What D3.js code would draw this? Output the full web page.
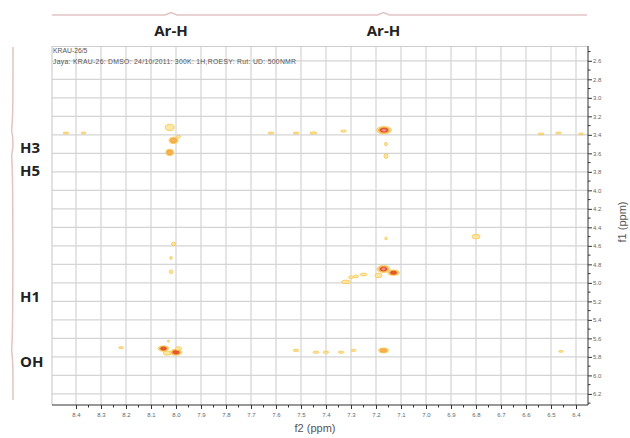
<!DOCTYPE html>
<html>
<head>
<meta charset="utf-8">
<script src="https://cdn.jsdelivr.net/npm/d3@7"></script>
<style>
  body { margin: 0; background: #fff; }
  svg { display: block; }
</style>
</head>
<body>
<div id="chart"></div>
<script>
// axis ticks (ppm)
const f2Ticks = [8.4, 8.3, 8.2, 8.1, 8.0, 7.9, 7.8, 7.7, 7.6, 7.5, 7.4, 7.3, 7.2, 7.1, 7.0, 6.9, 6.8, 6.7, 6.6, 6.5, 6.4];
const f1Ticks = [2.6, 2.8, 3.0, 3.2, 3.4, 3.6, 3.8, 4.0, 4.2, 4.4, 4.6, 4.8, 5.0, 5.2, 5.4, 5.6, 5.8, 6.0, 6.2];

// cross peaks: [f2, f1, half width f2, half width f1, contour levels]
const peaks = [
    [8.44, 3.38, 0.012, 0.010, 1],
    [8.37, 3.38, 0.010, 0.010, 1],
    [7.62, 3.38, 0.012, 0.010, 1],
    [7.52, 3.38, 0.012, 0.010, 1],
    [7.45, 3.38, 0.014, 0.012, 1],
    [7.33, 3.36, 0.012, 0.012, 1],
    [6.54, 3.39, 0.012, 0.010, 1],
    [6.47, 3.38, 0.012, 0.010, 1],
    [6.38, 3.39, 0.010, 0.010, 1],
    [7.168, 3.35, 0.030, 0.040, 4],
    [7.16, 3.50, 0.006, 0.018, 1],
    [7.16, 3.63, 0.008, 0.025, 1],
    [8.025, 3.32, 0.018, 0.035, 1],
    [8.01, 3.46, 0.018, 0.035, 2],
    [8.025, 3.59, 0.016, 0.035, 2],
    [7.99, 3.42, 0.008, 0.015, 1],
    [8.01, 4.58, 0.008, 0.020, 1],
    [8.02, 4.73, 0.005, 0.015, 1],
    [8.02, 4.88, 0.007, 0.020, 1],
    [7.16, 4.52, 0.005, 0.015, 1],
    [6.80, 4.50, 0.016, 0.025, 1],
    [7.17, 4.85, 0.026, 0.038, 4],
    [7.13, 4.89, 0.024, 0.030, 3],
    [7.19, 4.92, 0.014, 0.025, 1],
    [7.25, 4.91, 0.014, 0.015, 1],
    [7.28, 4.93, 0.010, 0.015, 1],
    [7.30, 4.94, 0.010, 0.015, 1],
    [7.32, 4.99, 0.018, 0.020, 1],
    [8.22, 5.70, 0.010, 0.010, 1],
    [8.05, 5.71, 0.022, 0.030, 3],
    [8.035, 5.76, 0.016, 0.022, 1],
    [8.00, 5.75, 0.024, 0.032, 3],
    [7.99, 5.71, 0.012, 0.020, 1],
    [8.03, 5.63, 0.004, 0.012, 1],
    [7.52, 5.73, 0.012, 0.012, 1],
    [7.44, 5.75, 0.012, 0.012, 1],
    [7.40, 5.75, 0.012, 0.012, 1],
    [7.34, 5.75, 0.012, 0.012, 1],
    [7.29, 5.73, 0.010, 0.012, 1],
    [7.17, 5.73, 0.020, 0.026, 2],
    [6.46, 5.74, 0.010, 0.010, 1]
];

const levelFill = ["#fde6a0", "#f6b14f", "#e8532f", "#f3a0a0"];
const levelStroke = ["#f5c445", "#f09a35", "#dc3f25", "#ee8a8a"];
const levelScale = [1, 0.72, 0.5, 0.28];

// assignments drawn around the spectrum
const topLabels = [{ text: "Ar-H", f2: 8.02 }, { text: "Ar-H", f2: 7.17 }];
const sideLabels = [
    { text: "H3", f1: 3.54 },
    { text: "H5", f1: 3.79 },
    { text: "H1", f1: 5.15 },
    { text: "OH", f1: 5.86 }
];

function buildSpectrum() {
    const svg = d3.select("#chart")
        .append("svg")
        .attr("width", 630)
        .attr("height", 438);

    const x = d3.scaleLinear().domain([8.496, 6.352]).range([52, 588]);
    const y = d3.scaleLinear().domain([2.44, 6.32]).range([46, 405]);

    // grid
    svg.append("g").selectAll("line")
        .data(f2Ticks)
        .enter().append("line")
        .attr("x1", d => x(d)).attr("x2", d => x(d))
        .attr("y1", 46).attr("y2", 405)
        .attr("stroke", "#d4d4d4").attr("stroke-width", 1.2);

    svg.append("g").selectAll("line")
        .data(f1Ticks)
        .enter().append("line")
        .attr("x1", 52).attr("x2", 588)
        .attr("y1", d => y(d)).attr("y2", d => y(d))
        .attr("stroke", "#d4d4d4").attr("stroke-width", 1.2);

    // plot frame (top and left)
    svg.append("path")
        .attr("d", "M52,405V46.5H588")
        .attr("fill", "none")
        .attr("stroke", "#cfcfcf").attr("stroke-width", 1.2);

    // header text
    svg.append("text")
        .attr("x", 53).attr("y", 52.5)
        .attr("font-family", "Liberation Sans, Arial, sans-serif")
        .attr("font-size", 6.8).attr("fill", "#555")
        .text("KRAU-26/5");
    svg.append("text")
        .attr("x", 53).attr("y", 63.5)
        .attr("font-family", "Liberation Sans, Arial, sans-serif")
        .attr("font-size", 6.8).attr("fill", "#555")
        .attr("textLength", 243)
        .text("Jaya: KRAU-26: DMSO: 24/10/2011: 300K: 1H,ROESY: Rut: UD: 500NMR");

    // peaks as stacked contours
    const peakGroups = svg.append("g").selectAll("g")
        .data(peaks)
        .enter().append("g");

    peakGroups.each(function (p) {
        const g = d3.select(this);
        const rx = Math.abs(x(p[0] + p[2]) - x(p[0]));
        const ry = Math.abs(y(p[1] + p[3]) - y(p[1]));
        for (let i = 0; i < p[4]; i++) {
            g.append("ellipse")
                .attr("cx", x(p[0]))
                .attr("cy", y(p[1]))
                .attr("rx", rx * levelScale[i])
                .attr("ry", ry * levelScale[i])
                .attr("fill", levelFill[i])
                .attr("stroke", levelStroke[i])
                .attr("stroke-width", 0.8)
                .attr("opacity", 0.95);
        }
    });

    // axes
    const xAxis = d3.axisBottom(x)
        .tickValues(f2Ticks)
        .tickSize(4)
        .tickFormat(d3.format(".1f"));
    const gx = svg.append("g")
        .attr("transform", "translate(0,405)")
        .call(xAxis);
    gx.select(".domain").attr("stroke", "#333").attr("d", "M52,0H588");
    gx.selectAll(".tick line").attr("stroke", "#333");
    gx.selectAll(".tick text")
        .attr("font-family", "Liberation Sans, Arial, sans-serif")
        .attr("font-size", 6).attr("fill", "#666").attr("dy", "0.9em");

    svg.append("g").selectAll("line")
        .data(d3.range(0, f2Ticks.length - 1).map(i => (f2Ticks[i] + f2Ticks[i + 1]) / 2))
        .enter().append("line")
        .attr("x1", d => x(d)).attr("x2", d => x(d))
        .attr("y1", 405).attr("y2", 407.5)
        .attr("stroke", "#333");

    const yAxis = d3.axisRight(y)
        .tickValues(f1Ticks)
        .tickSize(4)
        .tickFormat(d3.format(".1f"));
    const gy = svg.append("g")
        .attr("transform", "translate(588,0)")
        .call(yAxis);
    gy.select(".domain").attr("stroke", "#333").attr("d", "M0,46V405");
    gy.selectAll(".tick line").attr("stroke", "#333");
    gy.selectAll(".tick text")
        .attr("font-family", "Liberation Sans, Arial, sans-serif")
        .attr("font-size", 6).attr("fill", "#666").attr("x", 5);

    svg.append("g").selectAll("line")
        .data(f1Ticks.map(d => d + 0.1).concat([2.5]))
        .enter().append("line")
        .attr("x1", 588).attr("x2", 590.5)
        .attr("y1", d => y(d)).attr("y2", d => y(d))
        .attr("stroke", "#333");

    svg.append("text")
        .attr("x", 315).attr("y", 432)
        .attr("text-anchor", "middle")
        .attr("font-family", "Liberation Sans, Arial, sans-serif")
        .attr("font-size", 11).attr("fill", "#555")
        .text("f2 (ppm)");

    svg.append("text")
        .attr("transform", "translate(626,222) rotate(-90)")
        .attr("text-anchor", "middle")
        .attr("font-family", "Liberation Sans, Arial, sans-serif")
        .attr("font-size", 11).attr("fill", "#555")
        .text("f1 (ppm)");

    // brace lines
    const topLine = d3.line()([[52, 15], [x(8.02) - 6, 15], [x(8.02), 12.5], [x(8.02) + 6, 15],
        [x(7.17) - 6, 15], [x(7.17), 12.5], [x(7.17) + 6, 15], [587, 15]]);
    svg.append("path")
        .attr("d", topLine)
        .attr("fill", "none")
        .attr("stroke", "#e2c4c4").attr("stroke-width", 1.5);

    const sideLine = d3.line().curve(d3.curveBasis)([[13, 47], [13, 124], [11, 130], [13, 136],
        [13, 150], [11, 156], [13, 162], [13, 343], [11, 350], [13, 357], [13, 400]]);
    svg.append("path")
        .attr("d", sideLine)
        .attr("fill", "none")
        .attr("stroke", "#e2c4c4").attr("stroke-width", 1.5);

    svg.append("g").selectAll("text")
        .data(topLabels)
        .enter().append("text")
        .attr("x", d => x(d.f2))
        .attr("y", 36)
        .attr("text-anchor", "middle")
        .attr("font-family", "Open Sans, sans-serif")
        .attr("font-weight", 700)
        .attr("font-size", 15)
        .attr("fill", "#222")
        .text(d => d.text);

    svg.append("g").selectAll("text")
        .data(sideLabels)
        .enter().append("text")
        .attr("x", 20)
        .attr("y", d => y(d.f1) + 5)
        .attr("font-family", "Open Sans, sans-serif")
        .attr("font-weight", 700)
        .attr("font-size", 15)
        .attr("fill", "#222")
        .text(d => d.text);
}

window.addEventListener("load", () => {
    buildSpectrum();
});
</script>
</body>
</html>
